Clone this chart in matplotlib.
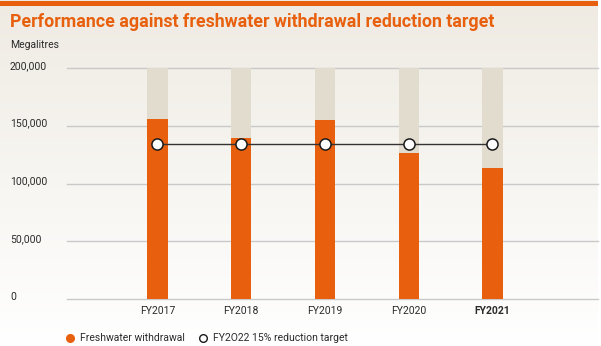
import matplotlib
matplotlib.use("Agg")
import matplotlib.pyplot as plt
import numpy as np

categories = ["FY2017", "FY2018", "FY2019", "FY2020", "FY2021"]
withdrawal = [156000, 140000, 155000, 127000, 113500]
target = [134600, 134600, 134600, 134600, 134600]
capacity = [200000, 200000, 200000, 200000, 200000]
yticks = [0, 50000, 100000, 150000, 200000]
ytick_labels = ["0", "50,000", "100,000", "150,000", "200,000"]

ORANGE = "#e8600e"
BEIGE = "#e2dccf"
GRID = "#c9c9c9"
TXT = "#2b2b2b"

plt.rcParams['font.family'] = ['Roboto', 'DejaVu Sans']

W, H = 601, 346
fig = plt.figure(figsize=(W / 100, H / 100), dpi=100)
fig.patch.set_facecolor('white')

# background gradient
bg = fig.add_axes([0, 0, 598 / W, 1], zorder=-10)
grad = np.linspace(0, 1, 256).reshape(-1, 1)
top = np.array([0.937, 0.922, 0.890])
bot = np.array([1.0, 1.0, 1.0])
img = top[None, None, :] * (1 - grad[:, :, None]) + bot[None, None, :] * grad[:, :, None]
bg.imshow(img, aspect='auto', extent=[0, 1, 0, 1], origin='upper')
bg.axis('off')
bg.set_xlim(0, 1); bg.set_ylim(0, 1)
# orange top strip
bg.add_patch(plt.Rectangle((0, 1 - 5.5 / H), 1, 4.5 / H, color=ORANGE, lw=0))

# main axes (pixel coords)
left, right = 67, 598
y0, y200 = 299, 68.3
ax = fig.add_axes([left / W, 1 - y0 / H, (right - left) / W, (y0 - y200) / H])
ax.set_facecolor('none')
x = np.arange(len(categories))
bw = 0.242
ax.bar(x, capacity, width=bw, color=BEIGE, zorder=1)
ax.bar(x, withdrawal, width=bw, color=ORANGE, zorder=2)
ax.plot(x, target, color="#333333", lw=1, zorder=3)
ax.plot(x, target, ls='none', marker='o', ms=8, mfc='white', mec='#1a1a1a', mew=1.1, zorder=4)

ax.set_xlim(-1.08, 5.26)
ax.set_ylim(0, 200000)
ax.set_yticks(yticks)
ax.set_yticklabels([])
for yv, lab in zip(yticks, ytick_labels):
    ax.axhline(yv, color=GRID, lw=1, zorder=0.5, clip_on=False)
    fig.text(10 / W, 1 - (y0 - (y0 - y200) * yv / 200000 + 0.5) / H, lab,
             ha='left', va='baseline', fontsize=7.5, color=TXT)
ax.tick_params(length=0)
ax.set_xticks(x)
ax.set_xticklabels(categories, fontsize=7.5, color=TXT)
ax.tick_params(axis='x', pad=5)
ax.get_xticklabels()[-1].set_fontweight('bold')
for s in ax.spines.values():
    s.set_visible(False)

fig.text(10 / W, 1 - 22 / H, "Performance against freshwater withdrawal reduction target",
         ha='left', va='center', fontsize=12.8, fontweight='bold', color=ORANGE)
fig.text(10 / W, 1 - 45 / H, "Megalitres", ha='left', va='center', fontsize=7.5, color=TXT)

# legend
ly = 1 - 338 / H
fig.lines.append(plt.Line2D([70 / W], [ly], transform=fig.transFigure, marker='o', ms=5.5,
                            color=ORANGE, ls='none'))
fig.text(80 / W, ly, "Freshwater withdrawal", ha='left', va='center', fontsize=7.5, color=TXT)
fig.lines.append(plt.Line2D([203 / W], [ly], transform=fig.transFigure, marker='o', ms=5.5,
                            mfc='white', mec='#1a1a1a', mew=1, ls='none'))
fig.text(213 / W, ly, "FY2O22 15% reduction target", ha='left', va='center', fontsize=7.5, color=TXT)

fig.savefig("out.png", dpi=100)
